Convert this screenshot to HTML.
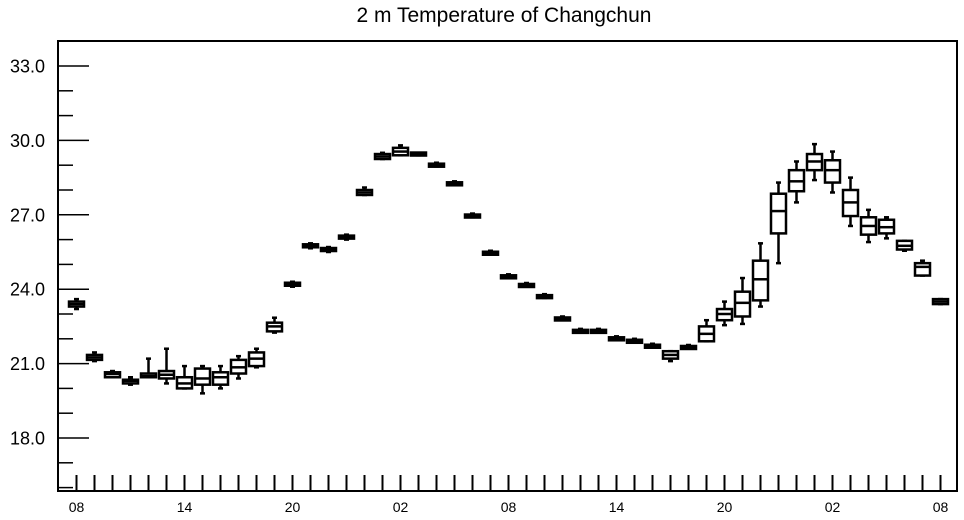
<!DOCTYPE html>
<html><head><meta charset="utf-8"><style>
html,body{margin:0;padding:0;background:#fff;}
svg{display:block;font-family:"Liberation Sans",Arial,sans-serif;}
</style></head><body>
<svg id="chart" width="964" height="520" viewBox="0 0 964 520" xmlns="http://www.w3.org/2000/svg">
<text x="504" y="22" font-size="21" text-anchor="middle">2 m Temperature of Changchun</text>
<rect x="58" y="41" width="899" height="450" fill="none" stroke="#000" stroke-width="2"/>
<g id="axes"></g>
<g id="boxes"></g>
</svg>
<script>
const hours = [];
for (let i = 0; i <= 48; i++) hours.push(i);
const xTickLabels = ["08","14","20","02","08","14","20","02","08"];
const yTickValues = [18, 21, 24, 27, 30, 33];
const yTickLabels = ["18.0","21.0","24.0","27.0","30.0","33.0"];
const minVals = [23.2,21.1,20.45,20.15,20.45,20.2,20.0,19.8,20.0,20.4,20.85,22.25,24.1,25.65,25.5,26.0,27.8,29.25,29.4,29.4,28.95,28.2,26.9,25.4,24.45,24.1,23.65,22.75,22.25,22.25,21.95,21.85,21.65,21.1,21.6,21.9,22.55,22.6,23.3,25.05,27.5,28.4,27.9,26.55,25.9,26.05,25.55,24.55,23.4];
const q1Vals = [23.3,21.15,20.45,20.2,20.45,20.4,20.0,20.15,20.15,20.6,20.9,22.3,24.15,25.7,25.55,26.05,27.8,29.25,29.4,29.4,28.95,28.2,26.9,25.4,24.45,24.1,23.65,22.75,22.25,22.25,21.95,21.85,21.65,21.2,21.6,21.9,22.75,22.9,23.55,26.25,27.95,28.8,28.3,26.95,26.2,26.25,25.6,24.55,23.4];
const medVals = [23.4,21.25,20.58,20.3,20.5,20.55,20.2,20.4,20.45,20.85,21.2,22.5,24.2,25.75,25.6,26.1,27.9,29.35,29.55,29.45,29.0,28.25,26.95,25.45,24.5,24.15,23.7,22.8,22.3,22.3,22.0,21.9,21.7,21.35,21.65,22.2,23.0,23.45,24.4,27.15,28.35,29.15,28.8,27.5,26.55,26.5,25.75,24.9,23.5];
const q3Vals = [23.5,21.35,20.65,20.35,20.6,20.7,20.45,20.8,20.65,21.15,21.45,22.65,24.25,25.8,25.65,26.15,28.0,29.45,29.7,29.5,29.05,28.3,27.0,25.5,24.55,24.2,23.75,22.85,22.35,22.35,22.05,21.95,21.75,21.5,21.7,22.5,23.2,23.9,25.15,27.85,28.8,29.45,29.2,28.0,26.9,26.8,25.95,25.05,23.6];
const maxVals = [23.6,21.45,20.7,20.45,21.2,21.6,20.9,20.9,20.9,21.3,21.6,22.85,24.3,25.85,25.7,26.2,28.1,29.5,29.8,29.5,29.1,28.35,27.05,25.55,24.6,24.25,23.8,22.9,22.4,22.4,22.1,22.0,21.8,21.5,21.75,22.75,23.5,24.45,25.85,28.3,29.15,29.85,29.55,28.5,27.2,26.9,25.95,25.15,23.6];

const NS = "http://www.w3.org/2000/svg";
const X0 = 58, X1 = 957, Y0 = 41, Y1 = 491;
function xScale(h) { return 76.5 + h * 18; }
function yScale(v) { return 66 + (33 - v) * 24.8; }
function mk(tag, attrs, parent) {
  const e = document.createElementNS(NS, tag);
  for (const k in attrs) e.setAttribute(k, attrs[k]);
  parent.appendChild(e);
  return e;
}
const axes = document.getElementById("axes");
const boxes = document.getElementById("boxes");

for (let v = 16; v <= 34; v++) {
  const y = yScale(v);
  if (y < Y0 || y > Y1) continue;
  const major = yTickValues.indexOf(v) >= 0;
  const t = mk("line", {x1: X0, x2: X0 + (major ? 31 : 15), y1: y, y2: y, stroke: "#000", "stroke-width": 1.5}, axes);
  
  
}
yTickValues.forEach((v, i) => {
  const t = mk("text", {x: 45, y: yScale(v) + 6.5, "font-size": 18, "text-anchor": "end"}, axes);
  t.textContent = yTickLabels[i];
  
  
});
hours.forEach(h => {
  const x = xScale(h);
  const t = mk("line", {x1: x, x2: x, y1: Y1, y2: Y1 - 16, stroke: "#000", "stroke-width": 2}, axes);
  
  
});
xTickLabels.forEach((lab, i) => {
  const t = mk("text", {x: xScale(i * 6), y: 512, "font-size": 14, "text-anchor": "middle"}, axes);
  t.textContent = lab;
  
  
});
hours.forEach((h, i) => {
  const x = xScale(h), w = 15;
  const g = mk("g", {stroke: "#000", "stroke-width": 2.5, fill: "none"}, boxes);
  
  
  const yMin = yScale(minVals[i]), yQ1 = yScale(q1Vals[i]), yMed = yScale(medVals[i]), yQ3 = yScale(q3Vals[i]), yMax = yScale(maxVals[i]);
  mk("line", {x1: x, x2: x, y1: yMax, y2: yQ3}, g);
  mk("line", {x1: x, x2: x, y1: yQ1, y2: yMin}, g);
  mk("line", {x1: x - 2.5, x2: x + 2.5, y1: yMax, y2: yMax}, g);
  mk("line", {x1: x - 2.5, x2: x + 2.5, y1: yMin, y2: yMin}, g);
  const bh = Math.max(yQ1 - yQ3, 3);
  mk("rect", {x: x - w / 2, y: (yQ1 + yQ3) / 2 - bh / 2, width: w, height: bh, fill: "#fff"}, g);
  mk("line", {x1: x - w / 2, x2: x + w / 2, y1: yMed, y2: yMed}, g);
});
</script>
</body></html>
